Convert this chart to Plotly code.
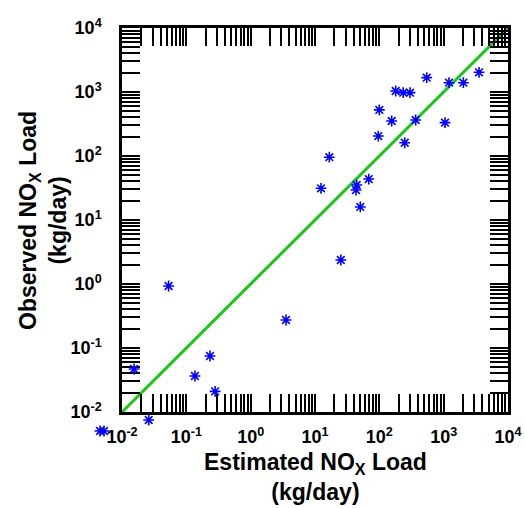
import plotly.graph_objects as go

# Estimated vs observed NOx loads (kg/day)
estimated = [0.0154, 0.053, 0.233, 0.136, 0.28, 0.026, 0.00455, 0.00525,
             3.54, 25.2, 12.4, 16.7, 44.5, 43.4, 68.4, 50.6,
             96.4, 100, 155.6, 179.5, 235, 300, 248, 367,
             545, 1050, 1211, 2023, 3548]
observed = [0.047, 0.93, 0.075, 0.0365, 0.021, 0.0075, 0.00505, 0.00505,
            0.274, 2.37, 31.3, 95.7, 35.2, 29.4, 43.6, 16.0,
            205, 525, 352, 1037, 977, 977, 161, 365,
            1675, 332, 1397, 1397, 2033]

# 1:1 reference line
one_to_one = [1e-2, 1e4]

decades = [-2, -1, 0, 1, 2, 3, 4]
tick_vals = [10.0 ** d for d in decades]
tick_text = ["10<sup>%d</sup>" % d for d in decades]
minor_vals = [m * 10.0 ** d for d in decades[:-1] for m in range(2, 10)]

W, H = 525, 508
# plot box in pixels: left, right, top, bottom
BOX_L, BOX_R, BOX_T, BOX_B = 122, 508, 28, 412
LO, HI = -2, 4
px_x = (BOX_R - BOX_L) / (HI - LO)
px_y = (BOX_B - BOX_T) / (HI - LO)

font_family = "Liberation Sans, Arial, sans-serif"

fig = go.Figure()
# 1:1 line on the framed axes (clipped to the box)
fig.add_trace(go.Scatter(
    x=one_to_one, y=one_to_one, mode="lines", xaxis="x", yaxis="y",
    line=dict(color="#14c814", width=3), hoverinfo="skip",
))
# data points on a full-page overlay with the same log scale, so points
# beyond the framed range still show
fig.add_trace(go.Scatter(
    x=estimated, y=observed, mode="markers", xaxis="x2", yaxis="y2",
    marker=dict(symbol="asterisk-open", size=9, color="#0000ff",
                line=dict(color="#0000ff", width=1.6)),
))

axis_common = dict(
    type="log", range=[LO, HI],
    showgrid=False, zeroline=False,
    showline=True, linecolor="black", linewidth=2.5, mirror="ticks",
    ticks="inside", ticklen=18, tickwidth=2, tickcolor="black",
    tickmode="array", tickvals=tick_vals, ticktext=tick_text,
    tickfont=dict(family=font_family, size=18, color="black", weight="bold"),
    minor=dict(tickmode="array", tickvals=minor_vals, ticks="inside",
               ticklen=18, tickwidth=2, tickcolor="black", showgrid=False),
    automargin=False,
)

title_font = dict(family=font_family, size=23, color="black", weight="bold")

fig.update_layout(
    width=W, height=H,
    margin=dict(l=0, r=0, t=0, b=0, autoexpand=False),
    paper_bgcolor="white", plot_bgcolor="rgba(0,0,0,0)",
    showlegend=False,
    xaxis=dict(**axis_common, domain=[BOX_L / W, BOX_R / W], anchor="y",
               ticklabelstandoff=7),
    yaxis=dict(**axis_common, domain=[1 - BOX_B / H, 1 - BOX_T / H], anchor="x",
               ticklabelstandoff=14),
    xaxis2=dict(type="log", domain=[0, 1], anchor="y2", visible=False,
                range=[LO - BOX_L / px_x, HI + (W - BOX_R) / px_x]),
    yaxis2=dict(type="log", domain=[0, 1], anchor="x2", visible=False,
                range=[LO - (H - BOX_B) / px_y, HI + BOX_T / px_y]),
    annotations=[
        dict(text="Estimated NO<sub>X</sub> Load<br>(kg/day)",
             xref="paper", yref="paper", x=(BOX_L + BOX_R) / 2 / W, y=1 - 477 / H,
             xanchor="center", yanchor="middle", showarrow=False,
             font=title_font),
        dict(text="Observed NO<sub>X</sub> Load<br>(kg/day)",
             xref="paper", yref="paper", x=43 / W, y=1 - 221 / H, textangle=-90,
             xanchor="center", yanchor="middle", showarrow=False,
             font=title_font),
    ],
)

fig.write_html("out.html")
